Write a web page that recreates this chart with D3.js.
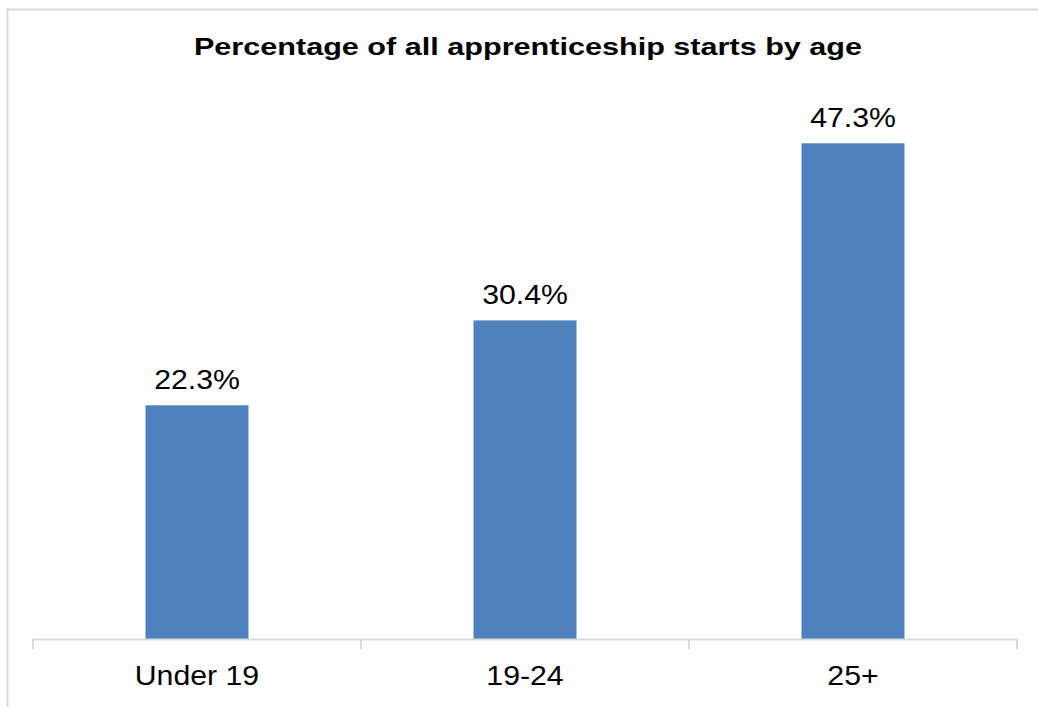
<!DOCTYPE html>
<html>
<head>
<meta charset="utf-8">
<script src="https://cdn.jsdelivr.net/npm/d3@7"></script>
<style>
  html, body { margin: 0; padding: 0; background: #fff; }
  svg { display: block; }
  text { font-family: "Liberation Sans", Arial, sans-serif; fill: #000; }
</style>
</head>
<body>
<div id="chart"></div>
<script>
// Share of apprenticeship starts by age group
const categories = ["Under 19", "19-24", "25+"];
const shares = [22.3, 30.4, 47.3];
const valueLabels = ["22.3%", "30.4%", "47.3%"];
const chartTitle = "Percentage of all apprenticeship starts by age";

const W = 1038, H = 707;
const plot = { left: 33, right: 1017, top: 115, bottom: 639 };

const svg = d3.select("#chart").append("svg")
  .attr("width", W).attr("height", H);

// widen text horizontally (the chart uses a slightly stretched face)
function stretch(sel, factor) {
  sel.each(function () {
    const len = this.getComputedTextLength();
    d3.select(this)
      .attr("textLength", len * factor)
      .attr("lengthAdjust", "spacingAndGlyphs");
  });
}

// outer frame (only top and left edges fall inside the canvas)
svg.append("path")
  .attr("d", `M7.5,${H} V9.5 H${W}`)
  .attr("fill", "none")
  .attr("stroke", "#d9d9d9")
  .attr("stroke-width", 2);

svg.append("text")
  .attr("x", 528).attr("y", 55)
  .attr("text-anchor", "middle")
  .attr("font-size", 23).attr("font-weight", "bold")
  .text(chartTitle)
  .call(stretch, 1.33);

const x = d3.scaleBand()
  .domain(categories)
  .range([plot.left, plot.right])
  .paddingInner(0.686)
  .paddingOuter(0.343);

const xEdges = d3.scaleBand()
  .domain(categories)
  .range([plot.left, plot.right])
  .padding(0);

const y = d3.scaleLinear()
  .domain([0, 50])
  .range([plot.bottom, plot.top]);

// bars
svg.append("g").selectAll("rect")
  .data(categories)
  .join("rect")
  .attr("x", (d) => x(d))
  .attr("width", x.bandwidth())
  .attr("y", (d, i) => y(shares[i]))
  .attr("height", (d, i) => y(0) - y(shares[i]))
  .attr("fill", "#4f81bd");

// value labels
svg.append("g").selectAll("text")
  .data(categories)
  .join("text")
  .attr("x", (d) => x(d) + x.bandwidth() / 2)
  .attr("y", (d, i) => y(shares[i]) - 16)
  .attr("text-anchor", "middle")
  .attr("font-size", 27)
  .text((d, i) => valueLabels[i])
  .call(stretch, 1.12);

// category axis with ticks at band edges
const axisG = svg.append("g");
axisG.append("line")
  .attr("x1", plot.left).attr("x2", plot.right)
  .attr("y1", plot.bottom + 0.5).attr("y2", plot.bottom + 0.5)
  .attr("stroke", "#d9d9d9").attr("stroke-width", 2);

const edges = categories.map((c) => xEdges(c)).concat([plot.right]);
axisG.selectAll("line.tick")
  .data(edges)
  .join("line")
  .attr("class", "tick")
  .attr("x1", (d) => d).attr("x2", (d) => d)
  .attr("y1", plot.bottom).attr("y2", plot.bottom + 10)
  .attr("stroke", "#d9d9d9").attr("stroke-width", 2);

axisG.selectAll("text")
  .data(categories)
  .join("text")
  .attr("x", (d) => xEdges(d) + xEdges.bandwidth() / 2)
  .attr("y", 685)
  .attr("text-anchor", "middle")
  .attr("font-size", 27)
  .text((d) => d)
  .call(stretch, 1.12);
</script>
</body>
</html>
